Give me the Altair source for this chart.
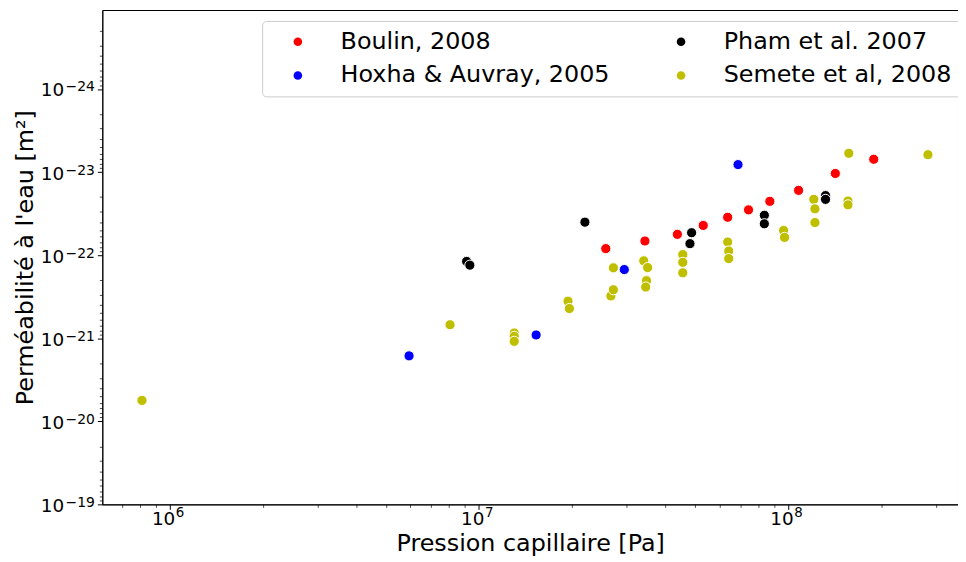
import math
import altair as alt
import pandas as pd

# ---------------- data ----------------
series_names = ["Boulin, 2008", "Hoxha & Auvray, 2005", "Pham et al. 2007", "Semete et al, 2008"]
series_colors = ["#ff0000", "#0000ff", "#000000", "#bfbf00"]

boulin_x = [2.57e7, 3.44e7, 4.38e7, 5.31e7, 6.37e7, 7.44e7, 8.72e7, 1.08e8, 1.42e8, 1.89e8]
boulin_y = [8.34e-23, 6.76e-23, 5.62e-23, 4.39e-23, 3.50e-23, 2.85e-23, 2.25e-23, 1.66e-23, 1.04e-23, 7.01e-24]

hoxha_x = [5.94e6, 1.53e7, 2.95e7, 6.88e7]
hoxha_y = [1.63e-21, 9.14e-22, 1.49e-22, 8.13e-24]

pham_x = [9.12e6, 9.34e6, 2.20e7, 4.87e7, 4.81e7, 8.37e7, 8.37e7, 1.32e8, 1.32e8]
pham_y = [1.19e-22, 1.32e-22, 4.01e-23, 5.37e-23, 7.27e-23, 3.31e-23, 4.19e-23, 1.92e-23, 2.13e-23]

semete_x = [8.13e5, 8.06e6, 1.30e7, 1.30e7, 1.30e7, 1.94e7, 1.96e7, 2.67e7, 2.72e7, 2.72e7,
            3.41e7, 3.51e7, 3.48e7, 3.46e7, 4.56e7, 4.56e7, 4.56e7, 6.37e7, 6.42e7, 6.42e7,
            9.66e7, 9.73e7, 1.21e8, 1.22e8, 1.22e8, 1.57e8, 1.56e8, 1.56e8, 2.83e8]
semete_y = [5.61e-21, 6.88e-22, 8.65e-22, 9.48e-22, 1.09e-21, 3.58e-22, 4.39e-22, 3.10e-22, 2.61e-22, 1.42e-22,
            1.17e-22, 1.41e-22, 2.03e-22, 2.42e-22, 9.84e-23, 1.22e-22, 1.63e-22, 6.95e-23, 8.91e-23, 1.10e-22,
            5.04e-23, 6.11e-23, 2.13e-23, 2.77e-23, 4.05e-23, 5.94e-24, 2.23e-23, 2.48e-23, 6.18e-24]

x_domain = [6.05e5, 3.54e8]
y_domain = [1.12e-25, 1e-19]

x_title = "Pression capillaire [Pa]"
y_title = "Perméabilité à l'eau [m²]"

# ---------------- table ----------------
rows = []
for name, xs, ys in zip(series_names, [boulin_x, hoxha_x, pham_x, semete_x],
                        [boulin_y, hoxha_y, pham_y, semete_y]):
    for xv, yv in zip(xs, ys):
        rows.append({"serie": name, "pression": xv, "perm": yv})
df = pd.DataFrame(rows)


def log_ticks(lo, hi):
    vals = []
    for d in range(math.floor(math.log10(lo)), math.ceil(math.log10(hi)) + 1):
        for k in range(1, 10):
            v = float(f"{k}e{d}")
            if lo <= v <= hi:
                vals.append(v)
    return vals


def decades(lo, hi):
    return [d for d in range(math.floor(math.log10(lo)), math.ceil(math.log10(hi)) + 1)
            if lo <= float(f"1e{d}") <= hi]


def base_expr(lo, hi):
    parts = [f"abs(log(datum.value)/LN10 - ({d})) < 0.001 ? '10' : " for d in decades(lo, hi)]
    return "".join(parts) + "''"


def exp_expr(lo, hi):
    parts = [f"abs(log(datum.value)/LN10 - ({d})) < 0.001 ? '{str(d).replace('-', '−')}' : "
             for d in decades(lo, hi)]
    return "".join(parts) + "''"


MAJOR = "abs(log(datum.value)/LN10 - round(log(datum.value)/LN10)) < 0.001"
FONT = "DejaVu Sans"

common = dict(grid=False, labelOverlap=False, labelFlush=False, labelColor="black",
              labelFont=FONT, labelLimit=500)

# main axes: frame line, major/minor ticks and the "10" of each label
x_axis_main = alt.Axis(
    values=log_ticks(*x_domain), labelExpr=base_expr(*x_domain), orient="bottom",
    tickSize={"condition": {"test": MAJOR, "value": 5}, "value": 3},
    tickWidth={"condition": {"test": MAJOR, "value": 1}, "value": 0.7},
    tickColor="black", domainColor="black", domainWidth=1,
    labelFontSize=18.5, labelAlign="right", labelBaseline="alphabetic", labelOffset=5, labelPadding=15,
    title=x_title, titleFont=FONT, titleFontSize=24, titleFontWeight="normal", titleColor="black",
    titleBaseline="alphabetic", titleY=46, **common)
y_axis_main = alt.Axis(
    values=log_ticks(*y_domain), labelExpr=base_expr(*y_domain), orient="left",
    tickSize={"condition": {"test": MAJOR, "value": 5}, "value": 3},
    tickWidth={"condition": {"test": MAJOR, "value": 1}, "value": 0.7},
    tickColor="black", domainColor="black", domainWidth=1,
    labelFontSize=18.5, labelAlign="right", labelBaseline="alphabetic", labelOffset=7, labelPadding=34,
    title=y_title, titleFont=FONT, titleFontSize=24, titleFontWeight="normal", titleColor="black",
    titleBaseline="alphabetic", titleX=-70, titleAngle=-90, **common)

# exponent axes: the superscript part of each label
x_axis_exp = alt.Axis(
    values=[float(f"1e{d}") for d in decades(*x_domain)],
    labelExpr=exp_expr(*x_domain), orient="bottom", ticks=False, domain=False,
    labelFontSize=13.5, labelAlign="left", labelBaseline="alphabetic", labelOffset=5.5, labelPadding=12,
    title=None, **common)
y_axis_exp = alt.Axis(
    values=[float(f"1e{d}") for d in decades(*y_domain)],
    labelExpr=exp_expr(*y_domain), orient="left", ticks=False, domain=False,
    labelFontSize=14, labelAlign="right", labelBaseline="alphabetic", labelOffset=2, labelPadding=8,
    title=None, **common)

x_scale = alt.Scale(type="log", domain=x_domain, nice=False)
y_scale = alt.Scale(type="log", domain=y_domain, nice=False, reverse=True)

points = (
    alt.Chart(df)
    .mark_point(filled=True, shape="circle", size=105, stroke="white", strokeWidth=1, opacity=1)
    .encode(
        x=alt.X("pression:Q", scale=x_scale, axis=x_axis_main),
        y=alt.Y("perm:Q", scale=y_scale, axis=y_axis_main),
        color=alt.Color(
            "serie:N",
            scale=alt.Scale(domain=series_names, range=series_colors),
            legend=alt.Legend(
                title=None, orient="none", legendX=161, legendY=11, columns=2,
                symbolType="circle", symbolSize=75, symbolStrokeWidth=0, symbolOffset=15,
                labelFont=FONT, labelFontSize=24, labelColor="black", labelOffset=31, labelLimit=500,
                columnPadding=44, rowPadding=10, padding=9,
                strokeColor="#cccccc", fillColor="white", cornerRadius=4,
            ),
        ),
        order=alt.Order("idx:Q"),
    )
    .transform_window(idx="row_number()")
)

# invisible copy that only carries the exponent labels of the axes
exponents = (
    alt.Chart(df)
    .mark_point(opacity=0)
    .encode(
        x=alt.X("pression:Q", scale=x_scale, axis=x_axis_exp),
        y=alt.Y("perm:Q", scale=y_scale, axis=y_axis_exp),
    )
)

chart = (
    alt.layer(points, exponents)
    .resolve_axis(x="independent", y="independent")
    .properties(
        width=862, height=498,
        autosize=alt.AutoSizeParams(type="none"),
        padding={"left": 95, "top": 0, "right": 0, "bottom": 54},
    )
    .configure_view(stroke="black", strokeWidth=1)
)

chart.save("out.html", embed_options={"renderer": "svg", "actions": False})
